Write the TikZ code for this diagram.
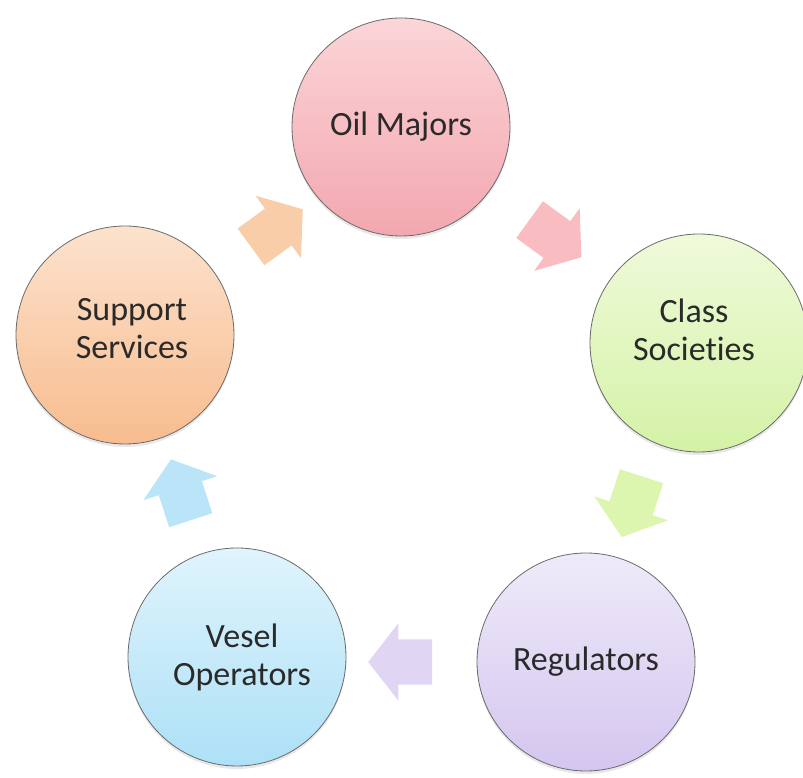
\documentclass[tikz,border=0pt]{standalone}
\usepackage{fontspec}
\setmainfont{Carlito}[Ligatures=NoCommon]
\usetikzlibrary{shapes.arrows,shadows,calc}
\definecolor{txt}{HTML}{2A2A2A}
\definecolor{rim}{HTML}{6A6A6A}
\definecolor{oilT}{HTML}{FBD5D8}\definecolor{oilB}{HTML}{F3A7AF}
\definecolor{clsT}{HTML}{EFFADA}\definecolor{clsB}{HTML}{D4F2A6}
\definecolor{regT}{HTML}{EFEAF9}\definecolor{regB}{HTML}{D4C6EF}
\definecolor{vesT}{HTML}{E0F4FC}\definecolor{vesB}{HTML}{ADE0F7}
\definecolor{supT}{HTML}{FCE2CD}\definecolor{supB}{HTML}{F8BC8F}
\definecolor{arA}{HTML}{F8B5BA}
\definecolor{arB}{HTML}{D8F4A6}
\definecolor{arC}{HTML}{DDD2F2}
\definecolor{arD}{HTML}{B3E2F8}
\definecolor{arE}{HTML}{F9C8A0}
\tikzset{
  bubble/.style={circle, minimum size=218pt, inner sep=0pt, draw=rim, line width=0.8pt,
    drop shadow={opacity=0.18, shadow xshift=0pt, shadow yshift=-3pt}},
  label text/.style={align=center, text=txt, font=\fontsize{34}{38}\selectfont, inner sep=0pt},
  flow/.style={single arrow, draw=none, minimum height=64pt, inner sep=22.5pt,
    single arrow head extend=16pt, single arrow tip angle=104, fill opacity=0.9}
}
\begin{document}
\begin{tikzpicture}[x=1pt,y=1pt]
\useasboundingbox (0,0) rectangle (803,778);
\coordinate (ctr) at (409,353);
\node[bubble, top color=oilT, bottom color=oilB] (oil) at (401,651) {};
\node[bubble, top color=clsT, bottom color=clsB] (cls) at (699,435) {};
\node[bubble, top color=regT, bottom color=regB] (reg) at (586,116) {};
\node[bubble, top color=vesT, bottom color=vesB] (ves) at (237,121) {};
\node[bubble, top color=supT, bottom color=supB] (sup) at (125,443) {};
\node[label text] (oilt) at (oil.center) {Oil Majors};
\node[label text] (clst) at ([shift={(-5,13)}]cls.center) {Class\\Societies};
\node[label text] (regt) at (reg.center) {Regulators};
\node[label text] (vest) at ([shift={(5,0)}]ves.center) {Vesel\\Operators};
\node[label text] (supt) at ([shift={(7,6)}]sup.center) {Support\\Services};
\node[flow, fill=arA, rotate=-36] (a1) at ([shift={(54:237)}]ctr) {};
\node[flow, fill=arB, rotate=-108] (a2) at ([shift={(-18:237)}]ctr) {};
\node[flow, fill=arC, rotate=180] (a3) at ([shift={(-90:237)}]ctr) {};
\node[flow, fill=arD, rotate=108] (a4) at ([shift={(-162:237)}]ctr) {};
\node[flow, fill=arE, rotate=36] (a5) at ([shift={(126:237)}]ctr) {};
\end{tikzpicture}
\end{document}
